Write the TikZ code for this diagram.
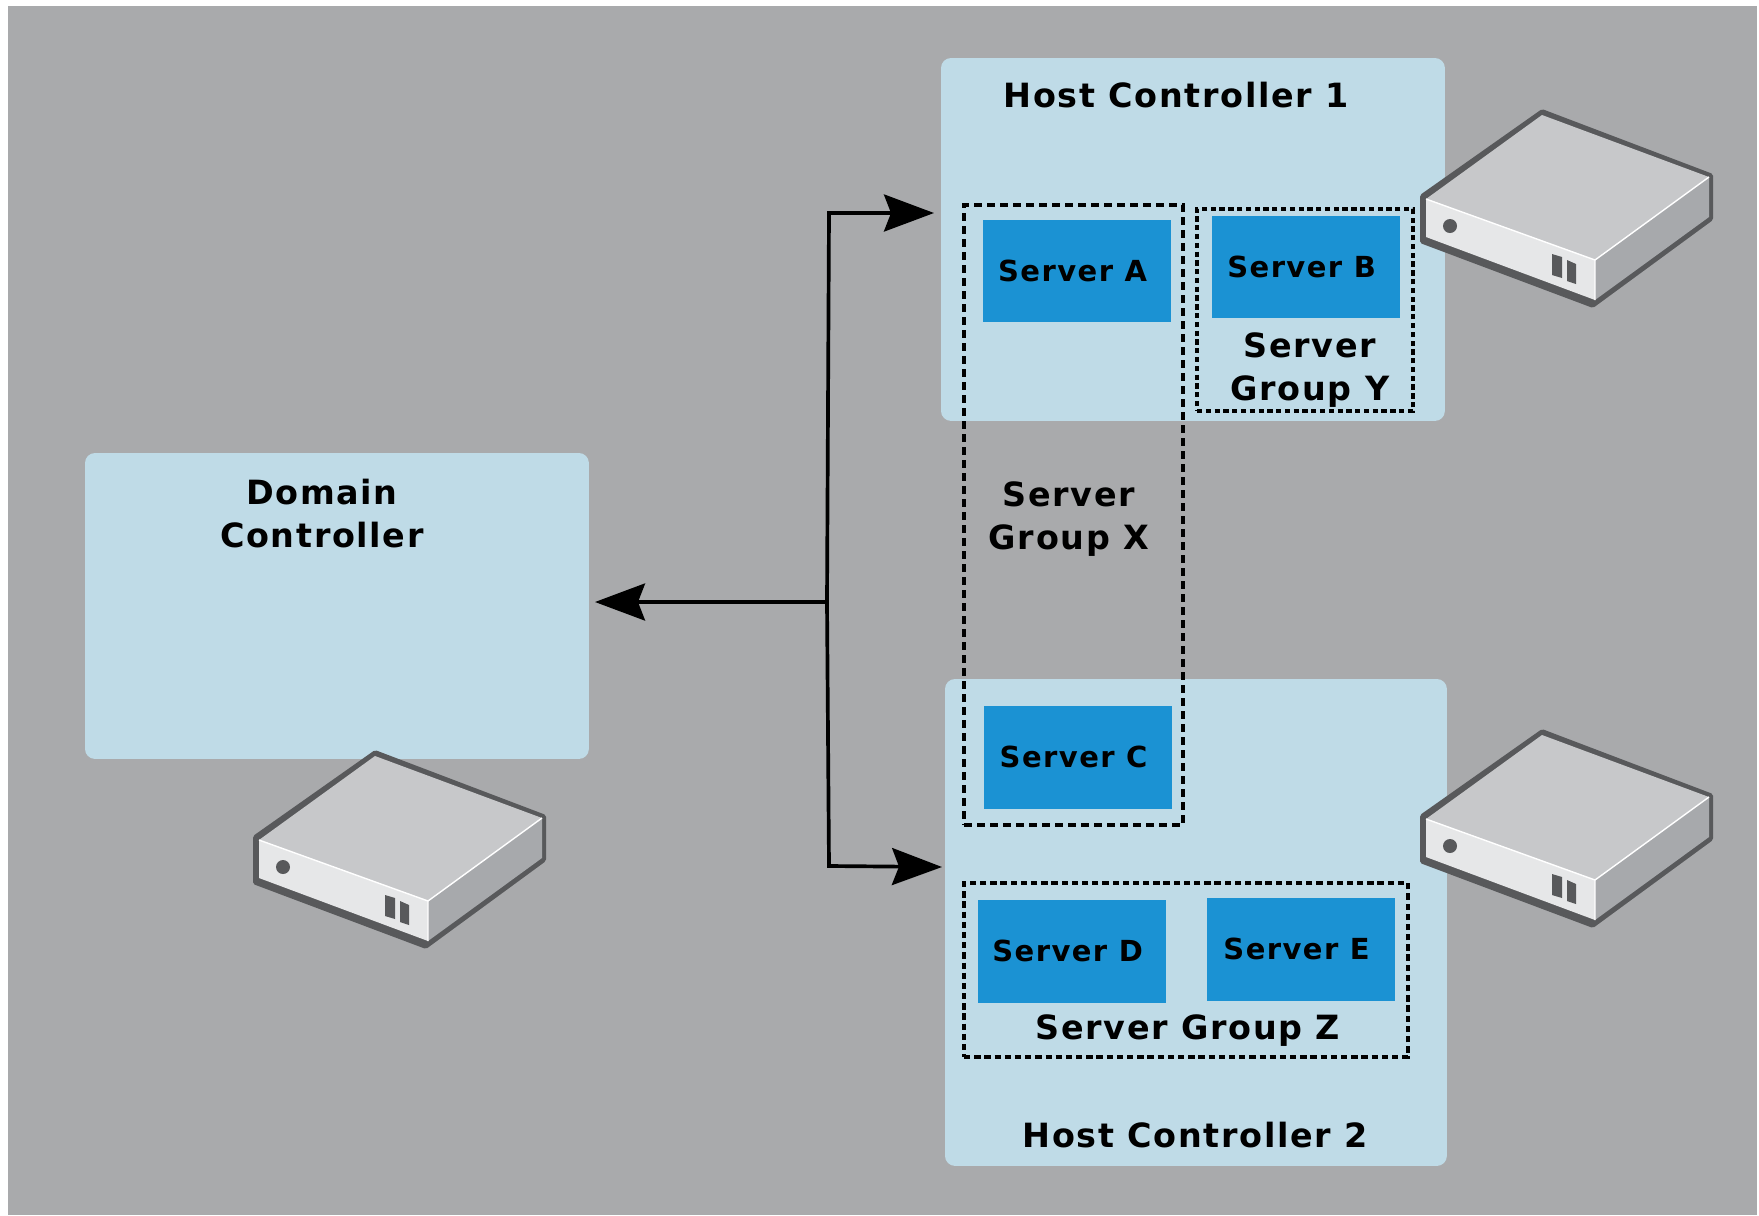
\documentclass[tikz,border=0pt]{standalone}
\usepackage{fontspec}
\setmainfont{DejaVu Sans}[LetterSpace=5]
\usetikzlibrary{arrows.meta}
\definecolor{backgrey}{HTML}{A9AAAC}
\definecolor{hostblue}{HTML}{BFDBE7}
\definecolor{serverblue}{HTML}{1B92D3}
\definecolor{boxdark}{HTML}{58595B}
\definecolor{boxtop}{HTML}{C7C8CA}
\definecolor{boxfront}{HTML}{E6E7E8}
\definecolor{boxside}{HTML}{A7A9AC}
\tikzset{
  hostbox/.style={fill=hostblue,rounded corners=.2cm,inner sep=0,outer sep=0,anchor=north west},
  serverbox/.style={fill=serverblue,inner sep=0,outer sep=0,minimum width=3.78cm,minimum height=2.06cm,
    font=\bfseries\fontsize{16.5}{18}\selectfont,execute at end node={\hspace{5pt}}},
  groupbox/.style={draw=black,line width=1.9pt,dash pattern=on 4.4pt off 3pt,inner sep=0,outer sep=0,anchor=north west},
  grouptight/.style={groupbox,dash pattern=on 3pt off 2pt},
  title/.style={font=\bfseries\fontsize{19}{24.5}\selectfont,align=center,inner sep=0},
  link/.style={line width=2.1pt,-{Stealth[length=50*0.569pt,width=37*0.569pt,inset=7*0.569pt]}},
  machine/.pic={
    \fill[boxdark,rounded corners=1pt] (-3,-2) -- (119,-88) -- (290,-23) -- (290,23) -- (170,111) -- (-3,46) -- cycle;
    \fill[boxtop] (3,2) -- (119,-82) -- (286,-20) -- (172,63) -- cycle;
    \fill[boxfront] (3,2) -- (172,63) -- (172,103) -- (3,40) -- cycle;
    \fill[boxside] (172,63) -- (286,-20) -- (286,20) -- (172,103) -- cycle;
    \draw[white,line width=.8pt] (3,2) -- (172,63) -- (286,-20) (172,63) -- (172,103);
    \fill[boxdark] (27,29) circle (.14cm);
    \fill[boxdark] (129,57) -- (139,60) -- (139,81) -- (129,78) -- cycle;
    \fill[boxdark] (144,63) -- (153,67) -- (153,87) -- (144,84) -- cycle;
  }
}
\begin{document}
\begin{tikzpicture}[x=.02cm,y=-.02cm]
  \useasboundingbox (0,0) rectangle (1759,1215);
  \fill[backgrey] (8,6) rectangle (1757,1215);

  % controllers
  \node[hostbox,minimum width=10.08cm,minimum height=6.12cm] (domain) at (85,453) {};
  \node[hostbox,minimum width=10.08cm,minimum height=7.26cm] (hostA) at (941,58) {};
  \node[hostbox,minimum width=10.04cm,minimum height=9.74cm] (hostB) at (945,679) {};

  % servers
  \node[serverbox] (serverA) at (1077,271) {Server A};
  \node[serverbox] (serverB) at (1306,267) {Server B};
  \node[serverbox] (serverC) at (1078,757) {Server C};
  \node[serverbox] (serverD) at (1072,951) {Server D};
  \node[serverbox] (serverE) at (1301,949) {Server E};

  % groups
  \node[groupbox,minimum width=4.38cm,minimum height=12.4cm] (groupX) at (964,205) {};
  \node[grouptight,minimum width=4.32cm,minimum height=4.04cm] (groupY) at (1197,209) {};
  \node[groupbox,dash pattern=on 3.6pt off 2.2pt,minimum width=8.88cm,minimum height=3.48cm] (groupZ) at (964,883) {};

  % labels
  \node[title] (domainlabel) at (322,514) {Domain\\Controller};
  \node[title] (hostAlabel) at (1176,95) {Host Controller 1};
  \node[title] (hostBlabel) at (1195,1135) {Host Controller 2};
  \node[title] (groupXlabel) at (1069,519) {Server\\Group X};
  \node[title] (groupYlabel) at (1310,370) {Server\\Group Y};
  \node[title] (groupZlabel) at (1188,1031) {Server Group Z};

  % connectors
  \coordinate (hub) at (827,602);
  \coordinate (hubup) at (829,213);
  \coordinate (hubdown) at (829,866);
  \coordinate (tipdomain) at (595,602);
  \coordinate (tipA) at (934,213);
  \coordinate (tipB) at (942,867);
  \draw[link] (hub) -- (tipdomain);
  \draw[link] (hub) -- (hubup) -- (tipA);
  \draw[link] (hub) -- (hubdown) -- (tipB);

  % machines
  \pic at (1423,197) {machine};
  \pic at (1423,817) {machine};
  \pic at (256,838) {machine};
\end{tikzpicture}
\end{document}
